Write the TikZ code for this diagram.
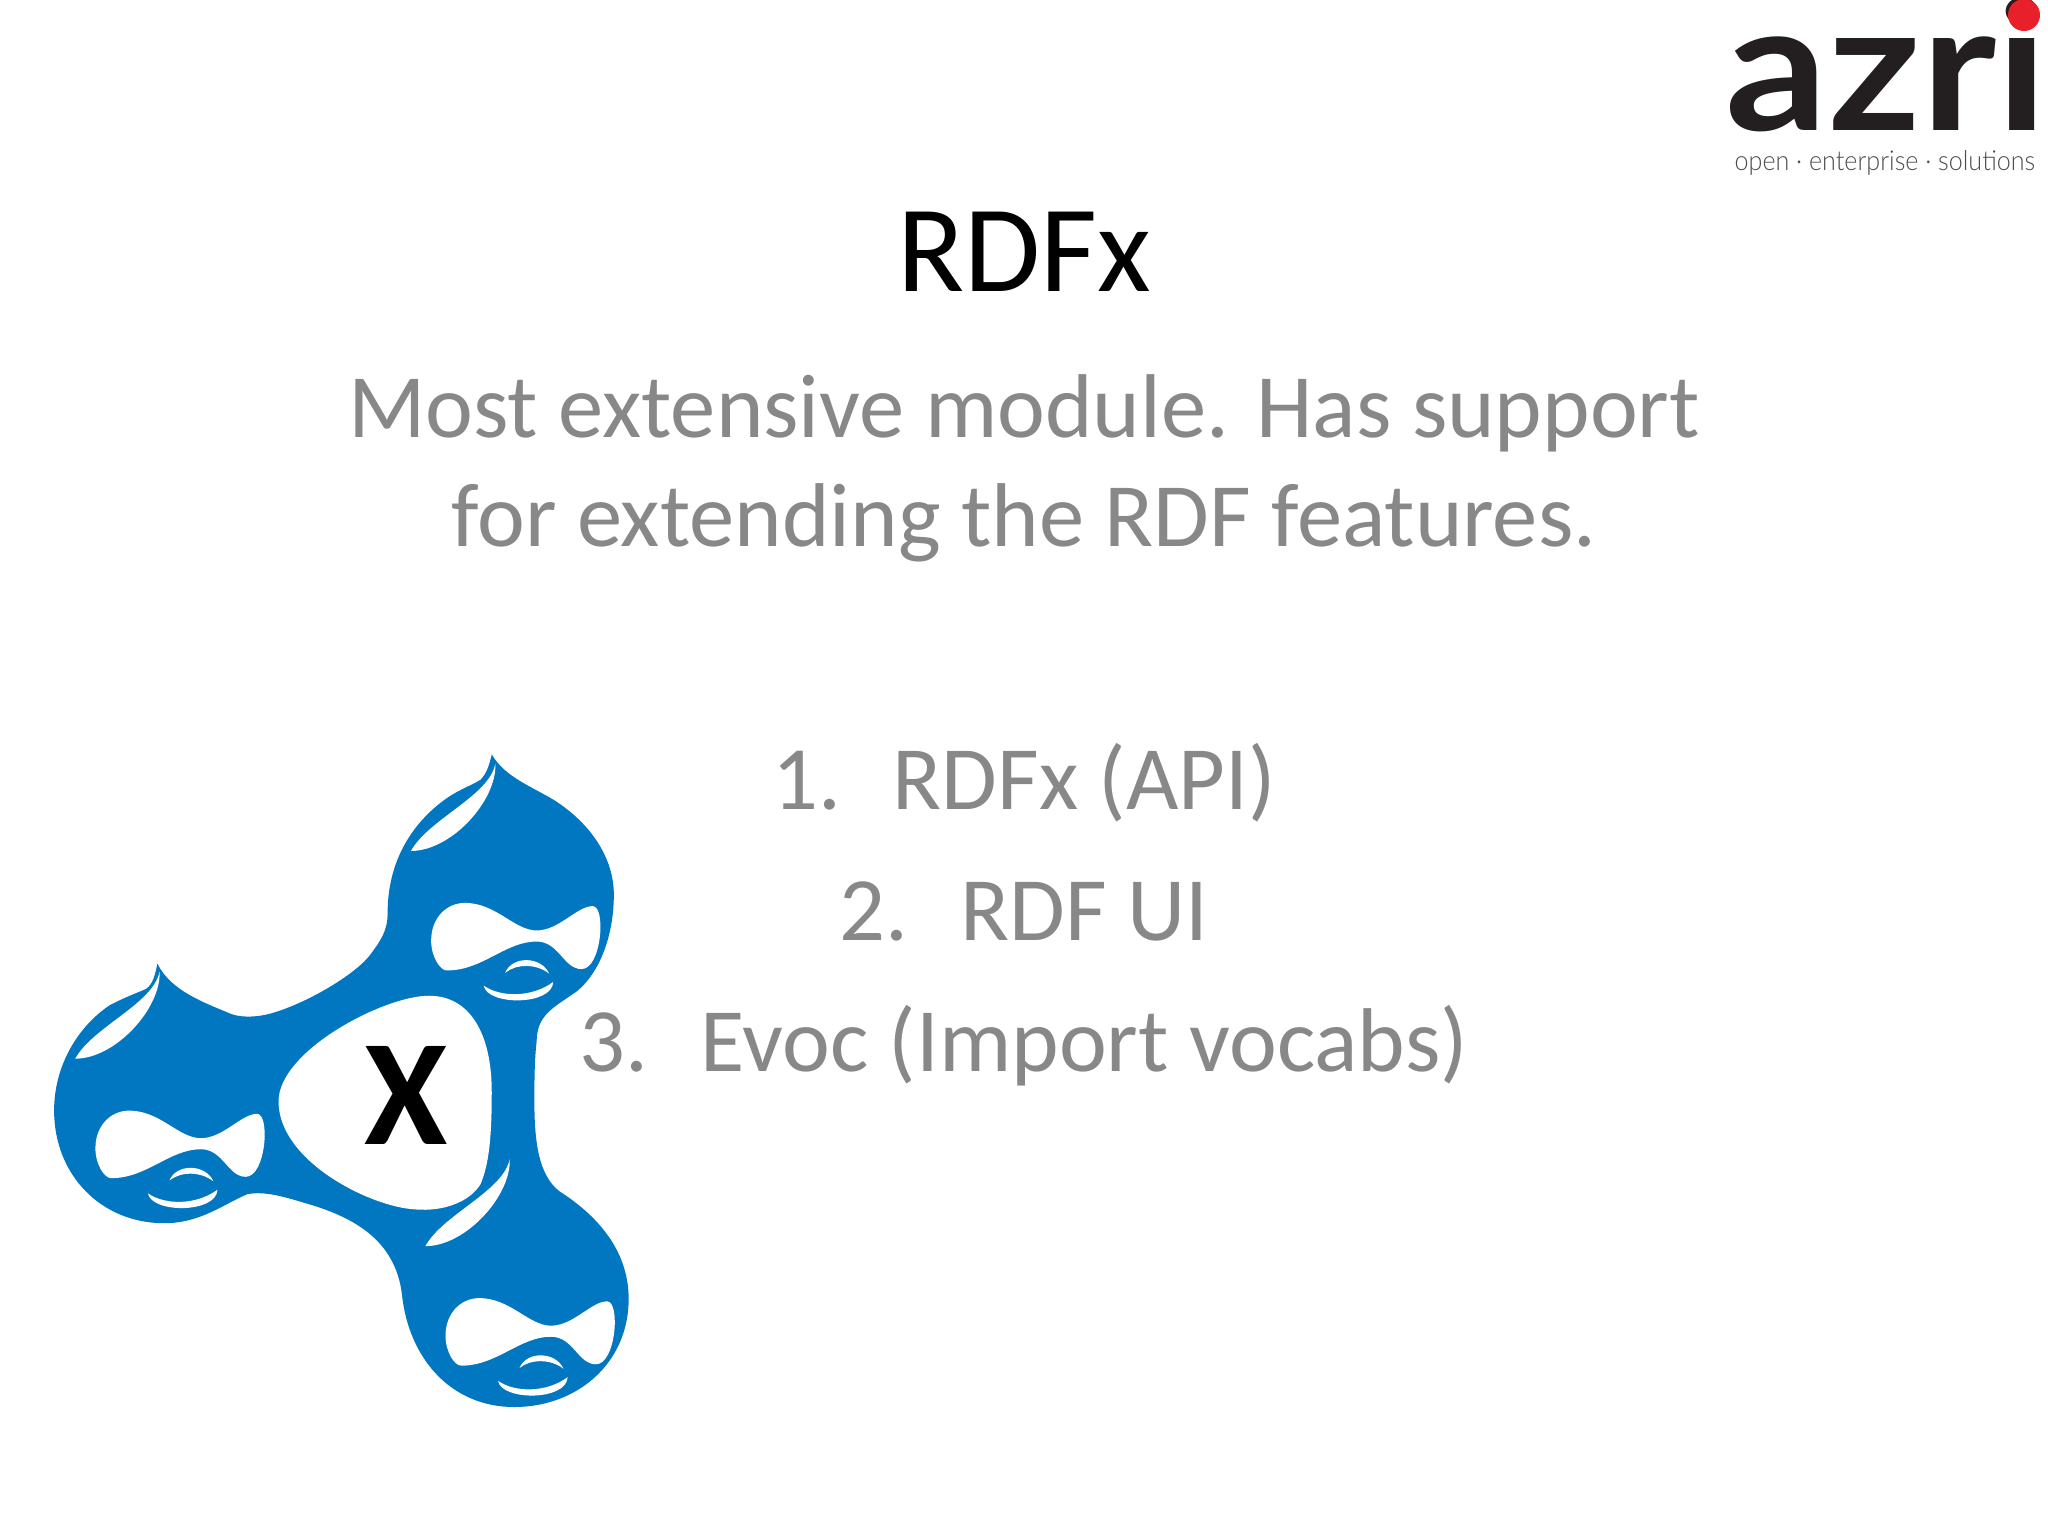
\documentclass[tikz,border=0pt]{standalone}
\usepackage{fontspec}
\setmainfont{Carlito}
\newfontfamily\logofont{Lato}
\newfontfamily\taglinefont{Lato Light}
\definecolor{dropblue}{HTML}{0077C0}
\definecolor{bodygray}{HTML}{888888}
\definecolor{logoblack}{HTML}{231F20}
\definecolor{logored}{HTML}{E8202A}
\tikzset{
  bodytext/.style={text=bodygray,font=\fontsize{25.75}{30}\selectfont,anchor=base,inner sep=0},
  dropwhite/.style={fill=white,draw=none}
}
\begin{document}
\begin{tikzpicture}[x=0.01cm,y=-0.01cm]
\useasboundingbox (0,0) rectangle (2048,1536);
% title and text
\node[anchor=base,inner sep=0,font=\fontsize{35.2}{40}\selectfont] (title) at (1024,291) {RDFx};
\node[bodytext] (line1) at (1024,437) {Most extensive module. Has support};
\node[bodytext] (line2) at (1024,546) {for extending the RDF features.};
\node[bodytext] (item1) at (1024,809) {1.\hspace{0.57em}RDFx (API)};
\node[bodytext] (item2) at (1024,940) {2.\hspace{0.57em}RDF UI};
\node[bodytext] (item3) at (1024,1071) {3.\hspace{0.57em}Evoc (Import vocabs)};
% logo
\node[anchor=base west,inner sep=0,text=logoblack,font=\logofont\bfseries\fontsize{51}{54}\selectfont,xscale=1.125] (azri) at (1725,130) {azri};
\fill[logored] (2024,15) circle (16);
\node[anchor=base west,inner sep=0,text=black!70,font=\taglinefont\fontsize{7.8}{9}\selectfont,xscale=0.915] (tagline) at (1734,170) {open · enterprise · solutions};
% three drops
\begin{scope}[shift={(-2,720)},x=0.004488cm,y=-0.0046cm]
\fill[dropblue] (1100,75) .. controls (1130,125) and (1190,145) .. (1240,175)
  .. controls (1320,225) and (1372,300) .. (1372,380)
  .. controls (1372,470) and (1340,550) .. (1290,590)
  .. controls (1240,625) and (1200,640) .. (1200,700)
  .. controls (1195,740) and (1195,790) .. (1195,830)
  .. controls (1195,920) and (1205,990) .. (1250,1025)
  .. controls (1330,1075) and (1405,1150) .. (1405,1260)
  .. controls (1405,1400) and (1290,1495) .. (1150,1495)
  .. controls (1010,1495) and (915,1390) .. (900,1250)
  .. controls (885,1130) and (790,1080) .. (680,1050)
  .. controls (630,1035) and (590,1025) .. (555,1032)
  .. controls (500,1055) and (450,1095) .. (370,1095)
  .. controls (230,1095) and (125,990) .. (125,850)
  .. controls (125,750) and (180,665) .. (250,620)
  .. controls (290,600) and (320,590) .. (330,585)
  .. controls (345,575) and (350,555) .. (355,530)
  .. controls (385,590) and (460,615) .. (520,640)
  .. controls (550,650) and (590,645) .. (620,635)
  .. controls (700,610) and (800,550) .. (830,510)
  .. controls (852,480) and (868,460) .. (868,420)
  .. controls (868,310) and (920,225) .. (1000,170)
  .. controls (1030,150) and (1060,140) .. (1075,130)
  .. controls (1090,115) and (1095,95) .. (1100,75) -- cycle;
\fill[dropwhite] (960,600) .. controls (1050,600) and (1100,680) .. (1100,810)
  .. controls (1100,900) and (1095,965) .. (1075,1010)
  .. controls (1050,1050) and (990,1070) .. (930,1065)
  .. controls (830,1060) and (625,960) .. (625,830)
  .. controls (625,720) and (860,600) .. (960,600) -- cycle;
\foreach \dx/\dy in {0/0,-748/452,32/860} {
\begin{scope}[shift={(\dx,\dy)}]
\fill[dropwhite] (965,480) .. controls (965,430) and (1000,398) .. (1040,398)
  .. controls (1110,398) and (1150,458) .. (1200,458)
  .. controls (1250,458) and (1290,405) .. (1325,405)
  .. controls (1355,405) and (1345,542) .. (1300,542)
  .. controls (1260,542) and (1250,482) .. (1200,482)
  .. controls (1130,482) and (1080,545) .. (1000,545)
  .. controls (985,545) and (965,515) .. (965,480) -- cycle;
\fill[dropwhite] (1130,550) .. controls (1145,513) and (1210,513) .. (1228,552) .. controls (1200,530) and (1155,530) .. (1130,550) -- cycle;
\fill[dropwhite] (1082,578) .. controls (1120,604) and (1190,604) .. (1237,570) .. controls (1235,622) and (1090,622) .. (1082,578) -- cycle;
\fill[dropwhite] (920,285) .. controls (960,215) and (1095,165) .. (1108,95) .. controls (1112,175) and (1010,285) .. (920,285) -- cycle;
\end{scope}
}
\end{scope}
\node[inner sep=0,anchor=base,font=\bfseries\fontsize{43}{50}\selectfont] (bigx) at (406,1144) {X};
\end{tikzpicture}
\end{document}
